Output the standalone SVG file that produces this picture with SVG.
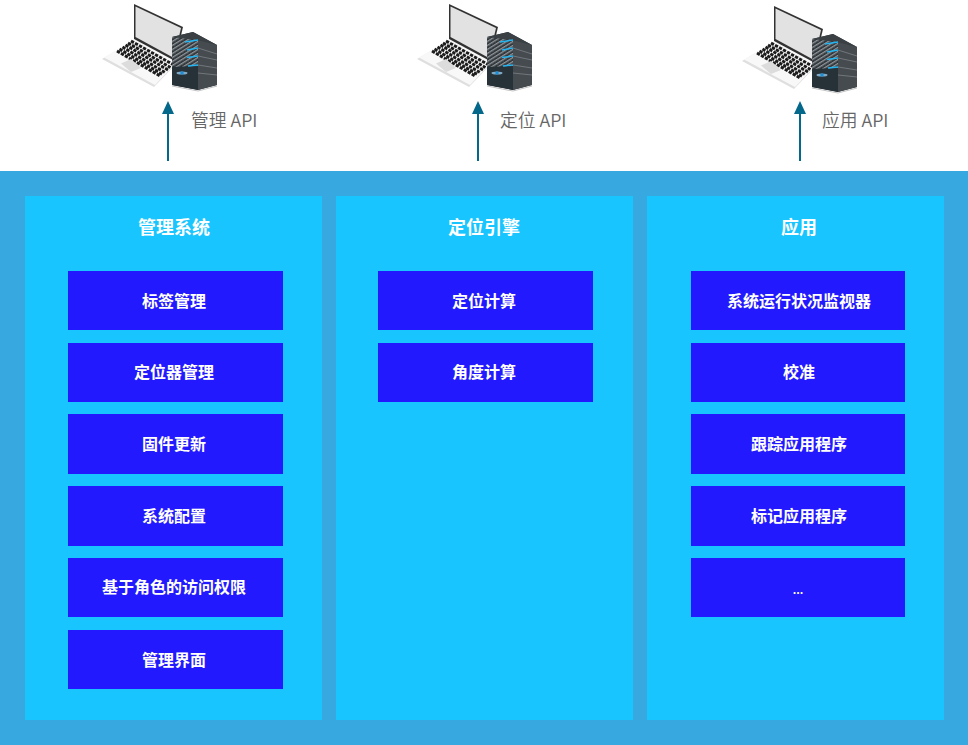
<svg xmlns="http://www.w3.org/2000/svg" width="968" height="745" viewBox="0 0 968 745">
<style>
.panel{fill:#18c5ff}
.box{fill:#2319ff}
.t{font-family:"Noto Sans CJK SC","Noto Sans",sans-serif;font-weight:700;fill:#fff;text-anchor:middle}
.h{font-size:18px}
.b{font-size:16px}
.dots{font-size:11px}
.api{font-family:"Noto Sans CJK SC","Noto Sans",sans-serif;font-size:17.800px;fill:#666;font-weight:350}
.arrow{stroke:#04688a;stroke-width:2;fill:none}
.head{fill:#04688a}
.keys{stroke:#1a1a1a;stroke-width:2.900;stroke-dasharray:3.300 1.300;fill:none}
</style>
<defs>
<pattern id="speck" width="3.400" height="3.400" patternUnits="userSpaceOnUse" patternTransform="rotate(-32)">
<rect width="3.400" height="3.400" fill="#30363b"/><rect width="3.400" height="1.300" fill="#8f9598"/><rect x="1" y="1.300" width="1" height="1" fill="#596066"/>
</pattern>
<filter id="soft" x="-10%" y="-10%" width="120%" height="120%"><feGaussianBlur stdDeviation="0.450"/></filter>
<g id="icon">
<g filter="url(#soft)">
<polygon points="102,59 134,40 178,62 154,87" fill="#dfdfdf"/>
<polygon points="104,57.500 134,40 178,61 155,85" fill="#f8f8f8"/>
<polygon points="134,4 183,27 175,61 134,39" fill="#333"/>
<polygon points="135.500,6.500 181,28 174,58 135.500,37" fill="#e2e2e2"/>
<g class="keys">
<path d="M117,51 L160,76"/><path d="M119.500,49 L162.500,74.500"/><path d="M122.500,47 L165,72.500"/>
<path d="M125.500,45 L168,70"/><path d="M128,43 L170.500,67.500"/><path d="M131,41 L173,64.500"/>
</g>
<polygon points="121,63.500 131,59 141,68 131,72" fill="#dcdcdc"/>
<polygon points="172,37 193,32 217,45 217,85 198,90 172,85" fill="#2f363b"/>
<polygon points="172,37 193,32 217,45 198,40" fill="#3a4045"/>
<polygon points="172,37 198,40 198,67 172,67" fill="url(#speck)"/>
<polygon points="172,67 198,66 198,90 172,85" fill="#263038"/>
<polygon points="198,40 217,45 217,85 198,90" fill="#454b50"/>
<path d="M198,48 L217,54M198,56 L217,60M198,65 L217,68M198,73 L217,75" stroke="#7c8185" stroke-width="0.800" fill="none"/>
<path d="M185,42 L198,40M187,50 L198,48M187,57.500 L198,56M188,66 L198,65" stroke="#25b4f0" stroke-width="1.500" fill="none"/>
<ellipse cx="182" cy="73" rx="5.500" ry="1.500" fill="#7fa9c4"/>
<circle cx="182" cy="73" r="1.700" fill="#1c8fd8"/>
<path d="M172,86 L198,91 L217,86" stroke="#c4c4c4" stroke-width="1.200" fill="none"/>
</g>
</g>
</defs>
<rect width="968" height="745" fill="#fff"/>
<rect y="171" width="968" height="574" fill="#38a8e0"/>
<g id="icon-management"><use href="#icon"/></g>
<g id="icon-location"><use href="#icon" x="315"/></g>
<g id="icon-application"><use href="#icon" x="640" y="2"/></g>
<g id="connectors">
<path class="arrow" d="M168,161V112"/><polygon class="head" points="168,101 162,114 174,114"/>
<path class="arrow" d="M478,161V112"/><polygon class="head" points="478,101 472,114 484,114"/>
<path class="arrow" d="M800,161V112"/><polygon class="head" points="800,101 794,114 806,114"/>
</g>
<text class="api" x="191" y="126.500">管理 API</text>
<text class="api" x="500" y="126.500">定位 API</text>
<text class="api" x="822" y="126.500">应用 API</text>
<g id="panel-management"><rect class="panel" x="25" y="196" width="297" height="524"/><text class="t h" x="174" y="233.500">管理系统</text></g>
<g id="panel-location"><rect class="panel" x="336" y="196" width="297" height="524"/><text class="t h" x="484" y="233.500">定位引擎</text></g>
<g id="panel-application"><rect class="panel" x="647" y="196" width="297" height="524"/><text class="t h" x="799" y="233.500">应用</text></g>
<g id="n1"><rect class="box" x="68" y="271" width="215" height="59"/><text class="t b" x="174" y="306.500">标签管理</text></g>
<g id="n2"><rect class="box" x="68" y="343" width="215" height="59"/><text class="t b" x="174" y="377.500">定位器管理</text></g>
<g id="n3"><rect class="box" x="68" y="414" width="215" height="60"/><text class="t b" x="174" y="449.500">固件更新</text></g>
<g id="n4"><rect class="box" x="68" y="486" width="215" height="60"/><text class="t b" x="174" y="521.500">系统配置</text></g>
<g id="n5"><rect class="box" x="68" y="558" width="215" height="59"/><text class="t b" x="174" y="592.500">基于角色的访问权限</text></g>
<g id="n6"><rect class="box" x="68" y="630" width="215" height="59"/><text class="t b" x="174" y="665.500">管理界面</text></g>
<g id="n7"><rect class="box" x="378" y="271" width="215" height="59"/><text class="t b" x="484" y="306.500">定位计算</text></g>
<g id="n8"><rect class="box" x="378" y="343" width="215" height="59"/><text class="t b" x="484" y="377.500">角度计算</text></g>
<g id="n9"><rect class="box" x="691" y="271" width="214" height="59"/><text class="t b" x="799" y="306.500">系统运行状况监视器</text></g>
<g id="n10"><rect class="box" x="691" y="343" width="214" height="59"/><text class="t b" x="799" y="377.500">校准</text></g>
<g id="n11"><rect class="box" x="691" y="414" width="214" height="60"/><text class="t b" x="799" y="449.500">跟踪应用程序</text></g>
<g id="n12"><rect class="box" x="691" y="486" width="214" height="60"/><text class="t b" x="799" y="521.500">标记应用程序</text></g>
<g id="n13"><rect class="box" x="691" y="558" width="214" height="59"/><text class="t dots" x="798" y="593.500">...</text></g>
</svg>
